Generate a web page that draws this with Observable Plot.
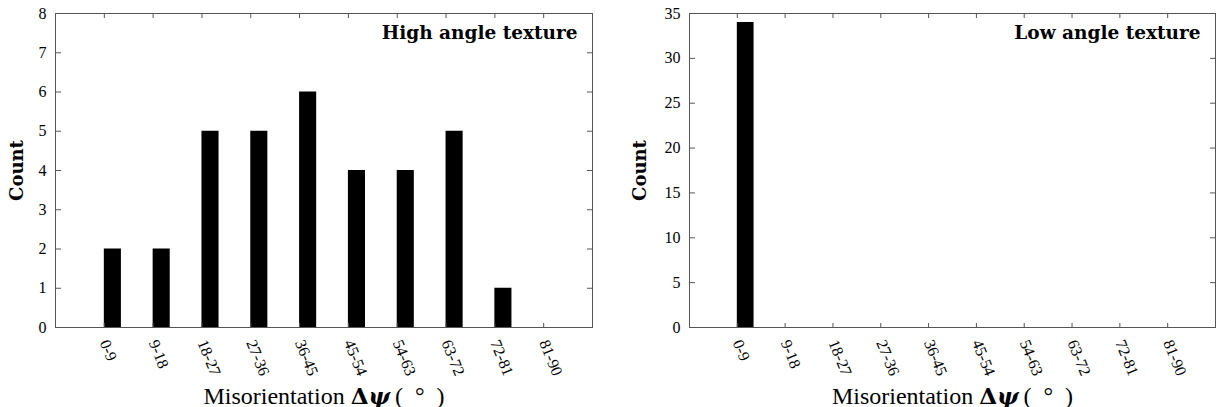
<!DOCTYPE html>
<html><head><meta charset="utf-8">
<script src="https://cdn.jsdelivr.net/npm/d3@7"></script>
<script src="https://cdn.jsdelivr.net/npm/@observablehq/plot@0.6"></script>
<style>
body{margin:0;background:#fff;}
#wrap{display:flex;width:1216px;height:407px;}
</style></head><body><div id="wrap"></div>
<script>
const categories = ["0-9","9-18","18-27","27-36","36-45","45-54","54-63","63-72","72-81","81-90"];
const highCounts = [2,2,5,5,6,4,4,5,1,0];
const lowCounts = [34,0,0,0,0,0,0,0,0,0];
const highTicks = [0,1,2,3,4,5,6,7,8];
const lowTicks = [0,5,10,15,20,25,30,35];
const positions = [1,2,3,4,5,6,7,8,9,10];
const barWidth = 0.35;
const axisColor = "#555";

function panel({counts, yMax, yTicks, title, marginLeft, marginRight, yLabelOffset}) {
  const data = categories.map((c, i) => ({cat: c, pos: positions[i], count: counts[i]}));
  const svg = Plot.plot({
    width: 608, height: 407, marginTop: 13, marginBottom: 80, marginLeft, marginRight,
    style: {fontFamily: "'Liberation Serif', serif", fontSize: "16px", color: "black", background: "white", overflow: "visible"},
    x: {domain: [0, 11]},
    y: {domain: [0, yMax]},
    marks: [
      Plot.rectY(data, {x1: "pos", x2: d => d.pos + barWidth, y: "count", fill: "black"}),
      Plot.frame({stroke: axisColor}),
      Plot.axisY({ticks: yTicks, tickSize: 0, tickPadding: 9, fontSize: 16, label: "Count", labelAnchor: "center", labelOffset: yLabelOffset, labelArrow: "none"}),
      Plot.axisY({ticks: yTicks, tickSize: -6, text: null, label: null, stroke: axisColor}),
      Plot.axisY({anchor: "right", ticks: yTicks, tickSize: -6, text: null, label: null, stroke: axisColor}),
      Plot.axisX({ticks: positions, tickFormat: p => categories[p - 1], tickSize: 0, tickRotate: 68, tickPadding: 13, fontSize: 16, label: "Misorientation", labelAnchor: "center", labelOffset: 76, labelArrow: "none"}),
      Plot.axisX({ticks: positions, tickSize: -4, text: null, label: null, stroke: axisColor}),
      Plot.axisX({anchor: "top", ticks: positions, tickSize: -4, text: null, label: null, stroke: axisColor}),
      Plot.text([title], {frameAnchor: "top-right", dx: -15, dy: 20, lineAnchor: "middle", fontWeight: "bold", fontSize: 18.5, fontFamily: "'DejaVu Serif', serif"})
    ]
  });
  const s = d3.select(svg);
  s.selectAll('g[aria-label="y-axis label"] text').text("Count")
    .style("font-family", "'DejaVu Serif', serif")
    .style("font-weight", "bold").style("font-size", "18px");
  const xl = s.selectAll('g[aria-label="x-axis label"] text');
  xl.text(null).style("font-size", "24px").style("font-weight", "normal");
  xl.append("tspan").text("Misorientation ");
  xl.append("tspan").style("font-weight", "bold").style("font-family", "'DejaVu Serif', serif").style("font-size", "23px").text("Δ");
  xl.append("tspan").style("font-weight", "bold").style("font-style", "italic").style("font-family", "'DejaVu Serif', serif").style("font-size", "23px").text("ψ");
  xl.append("tspan").text("\u2009(\u2002°\u2002)");
  return svg;
}

const wrap = document.getElementById("wrap");
wrap.appendChild(panel({counts: highCounts, yMax: 8, yTicks: highTicks, title: "High angle texture", marginLeft: 55, marginRight: 16, yLabelOffset: 45}));
wrap.appendChild(panel({counts: lowCounts, yMax: 35, yTicks: lowTicks, title: "Low angle texture", marginLeft: 81, marginRight: 1, yLabelOffset: 56}));
</script></body></html>
